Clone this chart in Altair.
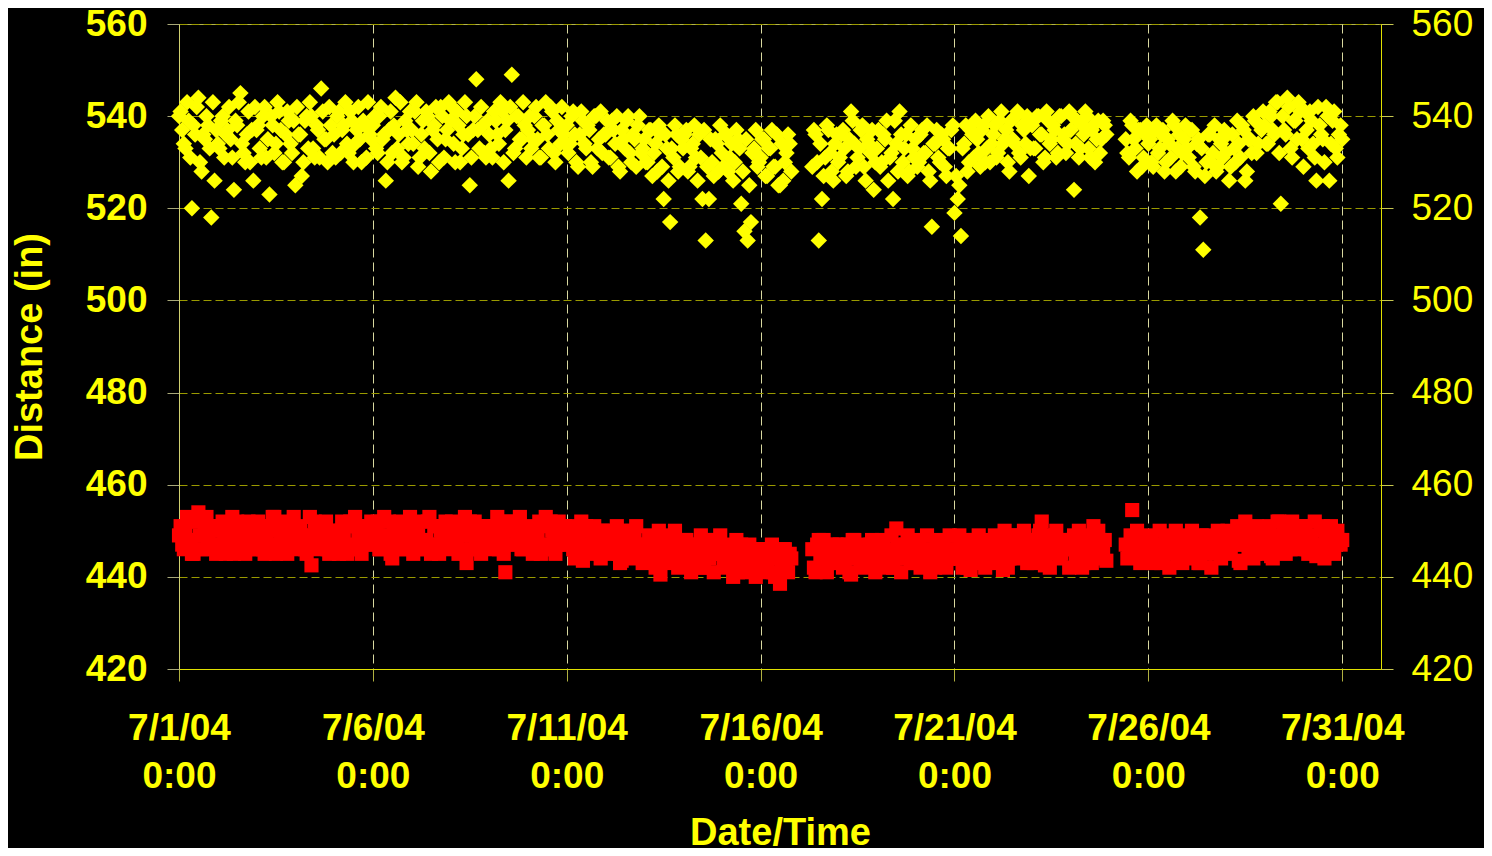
import altair as alt
import pandas as pd

# Yellow series (diamonds): readings on the even hours (0:00, 2:00, ... 22:00), one line per day 7/1 ... 7/31
yellow_even = [
    540, 537, 533, 539, 520, 536, 544, 528, 535, 538, 518, 526,
    534, 539, 531, 537, 535, 524, 538, 545, 532, 536, 530, 526,
    537, 533, 540, 531, 523, 538, 534, 541, 530, 536, 539, 532,
    525, 536, 527, 539, 533, 540, 531, 537, 546, 535, 530, 538,
    536, 540, 532, 538, 534, 541, 530, 537, 535, 539, 531, 536,
    538, 533, 540, 535, 526, 537, 532, 544, 536, 530, 539, 534,
    537, 541, 529, 536, 533, 540, 528, 538, 535, 542, 531, 537,
    539, 534, 541, 530, 536, 540, 525, 537, 548, 533, 538, 531,
    536, 531, 539, 534, 541, 537, 526, 549, 533, 540, 535, 538,
    537, 533, 540, 535, 531, 538, 536, 542, 532, 539, 534, 536,
    538, 534, 541, 530, 536, 539, 533, 537, 529, 540, 535, 532,
    536, 531, 539, 534, 529, 537, 533, 540, 530, 535, 538, 532,
    535, 530, 537, 532, 528, 536, 522, 533, 517, 531, 536, 529,
    533, 537, 529, 534, 531, 536, 522, 513, 522, 530, 535, 528,
    532, 536, 528, 534, 530, 535, 521, 515, 513, 517, 533, 529,
    531, 535, 527, 533, 529, 536, 525, 526, 532, 534, None, None,
    None, None, None, None, 529, 536, 513, 522, 531, 537, 528, 534,
    530, 536, 533, 528, 541, 534, 531, 537, 529, 535, 532, 524,
    533, 529, 536, 539, 531, 522, 534, 541, 530, 536, 528, 533,
    535, 530, 537, 532, 528, 516, 534, 531, 536, 529, 533, 537,
    519, 522, 514, 534, 528, 537, 531, 535, 529, 538, 533, 530,
    536, 531, 539, 534, 537, 528, 535, 540, 532, 538, 534, 527,
    538, 533, 540, 536, 531, 539, 535, 537, 532, 540, 536, 534,
    537, 524, 539, 533, 536, 540, 531, 538, 535, 532, 539, 536,
    None, None, None, None, None, 535, 531, 538, 533, 537, 529, 536,
    534, 530, 537, 532, 536, 528, 535, 531, 538, 533, 529, 535,
    533, 537, 529, 534, 518, 511, 530, 536, 532, 528, 535, 531,
    532, 526, 536, 530, 534, 538, 526, 535, 532, 539, 534, 537,
    538, 534, 540, 536, 543, 521, 537, 544, 533, 539, 535, 541,
    529, 537, 541, 534, 526, 538, 535, 542, 526, 539, 533, 536,
    535,
]

# Yellow series: readings on the odd hours (1:00, 3:00, ... 23:00)
yellow_odd = [
    541, 534, 543, 531, 538, 542, 530, 536, 540, 533, 543, 537,
    533, 540, 536, 542, 531, 539, 543, 534, 530, 541, 537, 542,
    538, 531, 542, 535, 540, 532, 543, 537, 530, 541, 534, 539,
    542, 536, 530, 540, 543, 533, 538, 531, 541, 535, 542, 532,
    531, 541, 537, 543, 532, 539, 534, 542, 530, 538, 543, 535,
    540, 532, 542, 536, 530, 541, 538, 533, 543, 531, 537, 541,
    534, 543, 531, 539, 541, 532, 537, 542, 530, 540, 535, 543,
    542, 530, 538, 533, 543, 536, 531, 540, 537, 542, 532, 539,
    533, 541, 536, 543, 530, 539, 542, 532, 540, 535, 543, 531,
    540, 535, 542, 531, 538, 543, 533, 541, 530, 537, 542, 534,
    532, 540, 536, 529, 541, 534, 538, 530, 540, 533, 541, 536,
    539, 531, 537, 540, 528, 535, 539, 532, 536, 529, 540, 533,
    530, 537, 527, 534, 538, 529, 536, 526, 533, 538, 528, 535,
    536, 528, 533, 538, 526, 531, 537, 529, 535, 527, 534, 538,
    529, 536, 531, 526, 537, 533, 528, 535, 525, 532, 537, 530,
    535, 527, 533, 537, 529, 525, 534, 530, 536, 528, None, None,
    None, None, None, None, 537, 530, 534, 527, 538, 532, 526, 536,
    531, 537, 527, 535, 539, 529, 533, 538, 526, 534, 537, 530,
    537, 530, 535, 526, 532, 539, 528, 536, 533, 527, 538, 531,
    529, 536, 532, 538, 526, 534, 537, 530, 535, 527, 533, 538,
    527, 525, 533, 538, 530, 536, 539, 532, 537, 530, 540, 534,
    538, 532, 541, 535, 530, 539, 534, 541, 531, 537, 540, 533,
    533, 540, 536, 530, 541, 534, 538, 531, 540, 535, 532, 541,
    540, 534, 531, 538, 541, 533, 537, 530, 539, 535, 538, None,
    None, None, None, None, None, 532, 539, 535, 528, 537, 531, 538,
    535, 529, 538, 533, 537, 530, 534, 539, 528, 536, 532, 538,
    531, 537, 528, 535, 533, 527, 536, 530, 538, 529, 534, 537,
    536, 529, 533, 539, 531, 537, 528, 535, 540, 532, 538, 541,
    534, 541, 537, 543, 532, 540, 536, 542, 531, 539, 543, 535,
    541, 533, 539, 531, 542, 536, 530, 540, 534, 541, 531, 538,
]

# Red series (squares): even hours
red_even = [
    449, 447, 451, 448, 445, 452, 454, 446, 450, 448, 451, 447,
    450, 446, 449, 447, 448, 445, 452, 451, 447, 449, 450, 446,
    448, 451, 446, 449, 447, 453, 445, 450, 448, 446, 451, 449,
    447, 450, 448, 446, 449, 442.5, 452, 450, 447, 449, 446, 450,
    449, 446, 450, 448, 445, 452, 446, 451, 448, 450, 447, 449,
    448, 450, 446, 449, 447, 452, 444, 451, 449, 446, 450, 448,
    450, 447, 449, 446, 448, 452, 445, 451, 447, 450, 448, 449,
    448, 450, 447, 449, 446, 443, 452, 450, 448, 446, 451, 447,
    449, 447, 450, 446, 448, 441, 452, 450, 447, 449, 446, 450,
    448, 450, 447, 449, 445, 451, 446, 452, 448, 447, 450, 449,
    447, 449, 446, 448, 450, 443.5, 451, 447, 449, 446, 448, 450,
    448, 446, 449, 447, 445, 443.5, 450, 448, 446, 449, 447, 445,
    447, 445, 448, 446, 444, 440.5, 449, 447, 445, 448, 446, 444,
    446, 448, 445, 447, 443, 446, 442, 448, 444, 446, 445, 447,
    445, 443, 446, 444, 442, 441, 447, 445, 443, 446, 444, 442,
    444, 446, 443, 445, 441, 444, 438.5, 446, 442, 445, None, None,
    None, None, None, None, 446, 441, 448, 444, 446, 443, 447, 445,
    444, 446, 443, 447, 440.5, 448, 445, 443, 446, 444, 447, 445,
    446, 443, 447, 445, 444, 442, 450.5, 446, 444, 447, 445, 443,
    445, 447, 444, 446, 443, 445, 442, 447, 445, 443, 446, 444,
    446, 444, 447, 445, 442, 441.5, 448, 446, 444, 447, 445, 446,
    447, 445, 448, 441.5, 446, 444, 449, 447, 445, 448, 446, 447,
    448, 446, 449, 452, 442.5, 447, 445, 449, 447, 445, 448, 446,
    447, 449, 446, 448, 443, 445, 447, 451, 446, 448, 445, 443.5,
    None, None, None, None, None, 447, 445, 454.5, 446, 448, 444, 447,
    446, 448, 445, 447, 443, 446, 449, 445, 447, 444, 448, 446,
    447, 445, 448, 446, 443, 447, 449, 446, 448, 445, 447, 446,
    448, 446, 449, 447, 443.5, 448, 452, 446, 448, 445, 449, 447,
    449, 447, 444.5, 448, 452, 446, 450, 448, 446, 449, 447, 450,
    448, 446, 449, 447, 444.5, 445, 451, 448, 446, 449, 447, 448,
    448,
]

# Red series: odd hours
red_odd = [
    451, 446, 453, 448, 445, 452, 449, 446, 453, 447, 451, 445,
    447, 452, 445, 450, 453, 446, 449, 451, 445, 452, 448, 446,
    452, 448, 445, 451, 447, 453, 446, 450, 452, 445, 449, 453,
    446, 451, 449, 445, 453, 448, 451, 446, 450, 452, 445, 448,
    450, 445, 452, 447, 451, 446, 453, 449, 445, 451, 447, 452,
    448, 452, 446, 453, 449, 445, 451, 447, 452, 446, 450, 453,
    445, 450, 452, 446, 448, 453, 447, 451, 445, 449, 452, 446,
    452, 447, 445, 451, 453, 449, 446, 452, 448, 445, 451, 447,
    446, 451, 453, 448, 445, 450, 452, 447, 451, 453, 446, 449,
    451, 445, 449, 452, 447, 453, 446, 450, 445, 452, 448, 451,
    447, 451, 444, 449, 452, 446, 450, 445, 451, 448, 444, 450,
    450, 445, 448, 451, 443, 447, 450, 444, 449, 451, 446, 443,
    444, 449, 446, 442, 450, 445, 448, 443, 447, 450, 442, 446,
    448, 443, 441, 447, 445, 449, 442, 446, 448, 441, 445, 449,
    442, 447, 445, 440, 448, 443, 446, 441, 447, 444, 440, 446,
    446, 441, 444, 447, 440, 445, 442, 446, 441, 444, None, None,
    None, None, None, None, 442, 447, 444, 448, 441, 446, 443, 447,
    447, 442, 445, 441, 448, 444, 446, 442, 447, 443, 448, 441,
    443, 448, 446, 442, 449, 444, 447, 441, 446, 449, 443, 447,
    448, 442, 446, 449, 441, 445, 448, 443, 447, 442, 449, 444,
    444, 449, 442, 447, 445, 448, 443, 449, 446, 442, 448, 445,
    449, 443, 447, 450, 442, 446, 449, 444, 448, 450, 443, 447,
    443, 448, 450, 445, 449, 442, 447, 450, 444, 448, 446, 442,
    448, 444, 450, 442, 447, 449, 443, 446, 450, 444, 448, None,
    None, None, None, None, None, 444, 449, 446, 450, 443, 448, 445,
    449, 443, 447, 450, 444, 448, 442, 446, 450, 445, 443, 449,
    444, 450, 446, 443, 449, 445, 448, 442, 447, 450, 444, 448,
    450, 445, 448, 451, 443, 447, 450, 446, 444, 451, 448, 445,
    446, 451, 444, 449, 452, 447, 445, 450, 452, 446, 449, 451,
    451, 445, 449, 452, 446, 450, 444, 448, 451, 445, 450, 447,
]

tick_days = [1, 6, 11, 16, 21, 26, 31]
y_ticks = [420, 440, 460, 480, 500, 520, 540, 560]

start = pd.Timestamp("2004-07-01 00:00:00")
t_even = [start + pd.Timedelta(hours=2 * i) for i in range(len(yellow_even))]
t_odd = [start + pd.Timedelta(hours=2 * i + 1) for i in range(len(yellow_odd))]
df_y = pd.DataFrame({"t": t_even + t_odd, "v": yellow_even + yellow_odd})
df_r = pd.DataFrame({"t": t_even + t_odd, "v": red_even + red_odd})

FONT = "Liberation Sans"
YEL = "#ffff00"

x_enc = alt.X(
    "t:T",
    scale=alt.Scale(domain=[alt.DateTime(year=2004, month=7, date=1),
                            alt.DateTime(year=2004, month=8, date=1)]),
    axis=alt.Axis(
        values=[alt.DateTime(year=2004, month=7, date=d) for d in tick_days],
        labelExpr="[timeFormat(datum.value, '%-m/%-d/%y'), '0:00']",
        labelLineHeight=48,
        labelFont=FONT, labelFontSize=37, labelFontWeight="bold", labelColor=YEL,
        labelPadding=29, labelFlush=False, labelOverlap=False,
        tickColor="#b0b040", tickSize=12, tickWidth=1,
        domainColor="#e0e000", domainWidth=1,
        grid=True, gridColor="#d8d8a0", gridDash=[9, 5], gridWidth=1,
        title="Date/Time", titleFont=FONT, titleFontSize=38, titleFontWeight="bold",
        titleColor=YEL, titlePadding=20,
    ),
)

y_scale = alt.Scale(domain=[420, 560], nice=False, zero=False)

left_axis = alt.Axis(
    values=y_ticks,
    labelFont=FONT, labelFontSize=37, labelFontWeight="bold", labelColor=YEL,
    labelPadding=20, tickColor="#a8a878", tickSize=12, tickWidth=1,
    domainColor="#d0d070", domainWidth=1,
    grid=True, gridColor="#9a9a00", gridDash=[8, 4], gridWidth=1,
    title="Distance (in)", titleFont=FONT, titleFontSize=38, titleFontWeight="bold",
    titleColor=YEL, titlePadding=36,
)

right_axis = alt.Axis(
    orient="right", values=y_ticks,
    labelFont=FONT, labelFontSize=37, labelFontWeight="normal", labelColor=YEL,
    labelPadding=18, tickColor="#c8c850", tickSize=12, tickWidth=1,
    domainColor="#e0e000", domainWidth=1, grid=False, title=None,
)

yel_layer = alt.Chart(df_y).mark_point(
    shape="diamond", filled=True, size=270, color=YEL, opacity=1, strokeWidth=0
).encode(x=x_enc, y=alt.Y("v:Q", scale=y_scale, axis=left_axis))

red_layer = alt.Chart(df_r).mark_square(
    size=200, color="#ff0000", opacity=1, strokeWidth=0
).encode(x=x_enc, y=alt.Y("v:Q", scale=y_scale, axis=None))

right_layer = alt.Chart(df_y).mark_point(opacity=0, size=1).encode(
    x=x_enc, y=alt.Y("v:Q", scale=y_scale, axis=right_axis)
)

chart = alt.layer(yel_layer, red_layer, right_layer).resolve_scale(
    y="independent"
).properties(
    width=1202, height=645,
    autosize=alt.AutoSizeParams(type="none"),
    padding={"left": 171, "top": 16, "right": 103, "bottom": 179},
    background="#000000",
).configure_view(stroke="#b4b450", strokeWidth=1)

chart.save("out.html", embed_options={"renderer": "svg", "actions": False})
